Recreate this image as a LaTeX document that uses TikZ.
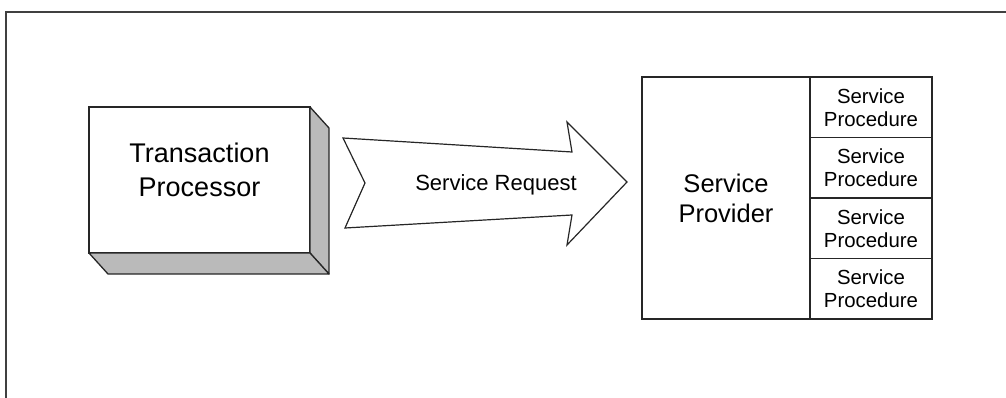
\documentclass[tikz,border=0pt]{standalone}
\usepackage{fontspec}
\setmainfont{Liberation Sans}
\usetikzlibrary{positioning}

\begin{document}
\begin{tikzpicture}[x=1pt,y=-1pt,
  line/.style={draw=black!85,line width=1.3pt},
  face/.style={line,fill=white,minimum width=221pt,minimum height=146pt,
    inner sep=0pt,outer sep=0pt},
  bevel/.style={line,fill=black!27,line join=round},
  provbox/.style={line,fill=white,minimum width=168pt,minimum height=242pt,
    inner sep=0pt,outer sep=0pt,align=center,
    font=\fontsize{25.5}{30}\selectfont},
  procbox/.style={line,fill=white,minimum width=122pt,minimum height=60.5pt,
    inner sep=0pt,outer sep=0pt,align=center,
    font=\fontsize{20.4}{23}\selectfont}]
  \useasboundingbox (0,0) rectangle (1006,398);
  % frame
  \draw[draw=black!75,line width=1.5pt] (6,398) -- (6,12) -- (1006,12);

  % transaction processor, a raised block
  \node[face] (tp) at (199.5,180) {};
  \coordinate (tpd) at (19,21);
  \draw[bevel] (tp.north east) -- ++(tpd) -- ([shift={(tpd)}]tp.south east)
    -- (tp.south east) -- cycle;
  \draw[bevel] (tp.south west) -- (tp.south east)
    -- ([shift={(tpd)}]tp.south east) -- ([shift={(tpd)}]tp.south west) -- cycle;
  \node[align=center,font=\fontsize{27}{34}\selectfont] (tptext)
    at ([yshift=10pt]tp.center) {Transaction\\Processor};

  % request arrow
  \draw[line,fill=white,line width=1.2pt,line join=miter]
    (343,138) -- (572,152) -- (567,122) -- (627,182) -- (567,245)
    -- (572,215) -- (345,228) -- (365,183) -- cycle;
  \node[anchor=base,font=\fontsize{22}{26}\selectfont] (req) at (496,190)
    {Service Request};

  % provider and its procedures
  \node[provbox] (prov) at (726,198) {Service\\Provider};
  \node[procbox,anchor=north west] (proc1) at (prov.north east)
    {Service\\Procedure};
  \node[procbox,below=0pt of proc1] (proc2) {Service\\Procedure};
  \node[procbox,below=0pt of proc2] (proc3) {Service\\Procedure};
  \node[procbox,below=0pt of proc3] (proc4) {Service\\Procedure};
\end{tikzpicture}
\end{document}
